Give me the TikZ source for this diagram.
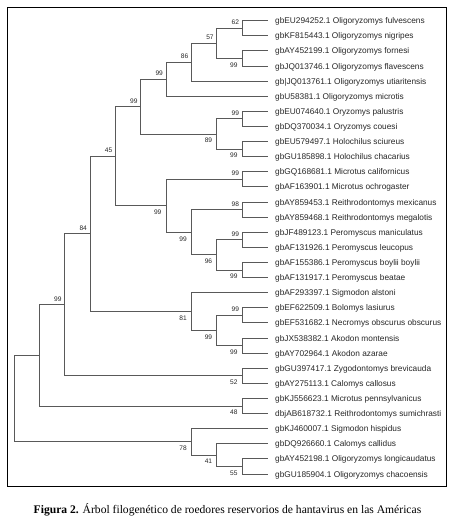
\documentclass[tikz,border=0pt]{standalone}
\usepackage{fontspec}
\newfontfamily\treefont{Liberation Sans}
\newfontfamily\capfont{Liberation Serif}
\begin{document}
\begin{tikzpicture}[x=1pt,y=-1pt,
  br/.style={draw=black!65,line width=0.9pt},
  leaf/.style={anchor=base west,inner sep=0pt,font=\treefont\fontsize{8.3}{9}\selectfont,text=black!85},
  bs/.style={inner sep=0pt,font=\treefont\fontsize{6.6}{7}\selectfont,text=black!85},
  up/.style={bs,anchor=south east,xshift=-3pt,yshift=3.2pt},
  dn/.style={bs,anchor=north east,xshift=-4.5pt,yshift=-4pt}]
\useasboundingbox (0,0) rectangle (459,526);
\draw[black,line width=0.8pt] (7.3,7.3) rectangle (446.7,486.7);
% leaves
\foreach \i/\t in {1/{gbEU294252.1 Oligoryzomys fulvescens},
2/{gbKF815443.1 Oligoryzomys nigripes},
3/{gbAY452199.1 Oligoryzomys fornesi},
4/{gbJQ013746.1 Oligoryzomys flavescens},
5/{gb|JQ013761.1 Oligoryzomys utiaritensis},
6/{gbU58381.1 Oligoryzomys microtis},
7/{gbEU074640.1 Oryzomys palustris},
8/{gbDQ370034.1 Oryzomys couesi},
9/{gbEU579497.1 Holochilus sciureus},
10/{gbGU185898.1 Holochilus chacarius},
11/{gbGQ168681.1 Microtus californicus},
12/{gbAF163901.1 Microtus ochrogaster},
13/{gbAY859453.1 Reithrodontomys mexicanus},
14/{gbAY859468.1 Reithrodontomys megalotis},
15/{gbJF489123.1 Peromyscus maniculatus},
16/{gbAF131926.1 Peromyscus leucopus},
17/{gbAF155386.1 Peromyscus boylii boylii},
18/{gbAF131917.1 Peromyscus beatae},
19/{gbAF293397.1 Sigmodon alstoni},
20/{gbEF622509.1 Bolomys lasiurus},
21/{gbEF531682.1 Necromys obscurus obscurus},
22/{gbJX538382.1 Akodon montensis},
23/{gbAY702964.1 Akodon azarae},
24/{gbGU397417.1 Zygodontomys brevicauda},
25/{gbAY275113.1 Calomys callosus},
26/{gbKJ556623.1 Microtus pennsylvanicus},
27/{dbjAB618732.1 Reithrodontomys sumichrasti},
28/{gbKJ460007.1 Sigmodon hispidus},
29/{gbDQ926660.1 Calomys callidus},
30/{gbAY452198.1 Oligoryzomys longicaudatus},
31/{gbGU185904.1 Oligoryzomys chacoensis}}{
  \coordinate (l\i) at (267.5,{20.7+(\i-1)*15.11});
  \node[leaf] (t\i) at (275,{20.7+(\i-1)*15.11+3}) {\t};
}
% internal nodes
\coordinate (O) at (242.15,28.26);
\coordinate (P) at (242.15,58.48);
\coordinate (N) at (216.8,43.37);
\coordinate (M) at (191.45,62.26);
\coordinate (K) at (166.1,79.25);
\coordinate (V) at (242.15,118.92);
\coordinate (W) at (242.15,149.14);
\coordinate (L) at (216.8,134.03);
\coordinate (I) at (140.75,106.64);
\coordinate (X) at (242.15,179.36);
\coordinate (Y) at (242.15,209.58);
\coordinate (Z1) at (242.15,239.8);
\coordinate (Z2) at (242.15,270.02);
\coordinate (R) at (216.8,254.91);
\coordinate (Q) at (191.45,232.25);
\coordinate (J) at (166.1,205.8);
\coordinate (G) at (115.4,156.22);
\coordinate (S1) at (242.15,315.35);
\coordinate (S2) at (242.15,345.57);
\coordinate (S) at (216.8,330.46);
\coordinate (H) at (191.45,311.57);
\coordinate (E) at (90.05,233.9);
\coordinate (F) at (242.15,375.79);
\coordinate (C) at (64.7,304.84);
\coordinate (D) at (242.15,406.0);
\coordinate (A) at (39.35,355.42);
\coordinate (U) at (242.15,466.45);
\coordinate (T) at (216.8,455.11);
\coordinate (B) at (191.45,441.89);
\coordinate (root) at (14,398.66);
% branches
\draw[br] (O) |- (l1) (O) |- (l2) (P) |- (l3) (P) |- (l4)
  (N) |- (O) (N) |- (P) (M) |- (N) (M) |- (l5) (K) |- (M) (K) |- (l6)
  (V) |- (l7) (V) |- (l8) (W) |- (l9) (W) |- (l10) (L) |- (V) (L) |- (W)
  (I) |- (K) (I) |- (L)
  (X) |- (l11) (X) |- (l12) (Y) |- (l13) (Y) |- (l14)
  (Z1) |- (l15) (Z1) |- (l16) (Z2) |- (l17) (Z2) |- (l18)
  (R) |- (Z1) (R) |- (Z2) (Q) |- (Y) (Q) |- (R) (J) |- (X) (J) |- (Q)
  (G) |- (I) (G) |- (J)
  (S1) |- (l20) (S1) |- (l21) (S2) |- (l22) (S2) |- (l23) (S) |- (S1) (S) |- (S2)
  (H) |- (l19) (H) |- (S) (E) |- (G) (E) |- (H)
  (F) |- (l24) (F) |- (l25) (C) |- (E) (C) |- (F)
  (D) |- (l26) (D) |- (l27) (A) |- (C) (A) |- (D)
  (U) |- (l30) (U) |- (l31) (T) |- (l29) (T) |- (U) (B) |- (l28) (B) |- (T)
  (root) |- (A) (root) |- (B);
% bootstrap values
\node[up] (bO) at (O) {62};
\node[dn] (bP) at (P) {99};
\node[up] (bN) at (N) {57};
\node[up] (bM) at (M) {86};
\node[up] (bK) at (K) {99};
\node[up] (bI) at (I) {99};
\node[up] (bV) at (V) {99};
\node[dn] (bW) at (W) {99};
\node[dn] (bL) at (L) {89};
\node[up] (bG) at (G) {45};
\node[up] (bX) at (X) {99};
\node[dn] (bJ) at (J) {99};
\node[up] (bY) at (Y) {98};
\node[dn] (bQ) at (Q) {99};
\node[up] (bZ1) at (Z1) {99};
\node[dn] (bZ2) at (Z2) {99};
\node[dn] (bR) at (R) {96};
\node[up] (bE) at (E) {84};
\node[dn] (bH) at (H) {81};
\node[up] (bS1) at (S1) {99};
\node[dn] (bS2) at (S2) {99};
\node[dn] (bS) at (S) {99};
\node[up] (bC) at (C) {99};
\node[dn] (bF) at (F) {52};
\node[dn] (bD) at (D) {48};
\node[dn] (bB) at (B) {78};
\node[dn] (bT) at (T) {41};
\node[dn] (bU) at (U) {55};
% caption
\node[anchor=base,inner sep=0pt,font=\capfont\fontsize{11.6}{13}\selectfont] (cap) at (227.5,513)
  {\textbf{Figura 2.} Árbol filogenético de roedores reservorios de hantavirus en las Américas};
\end{tikzpicture}
\end{document}
